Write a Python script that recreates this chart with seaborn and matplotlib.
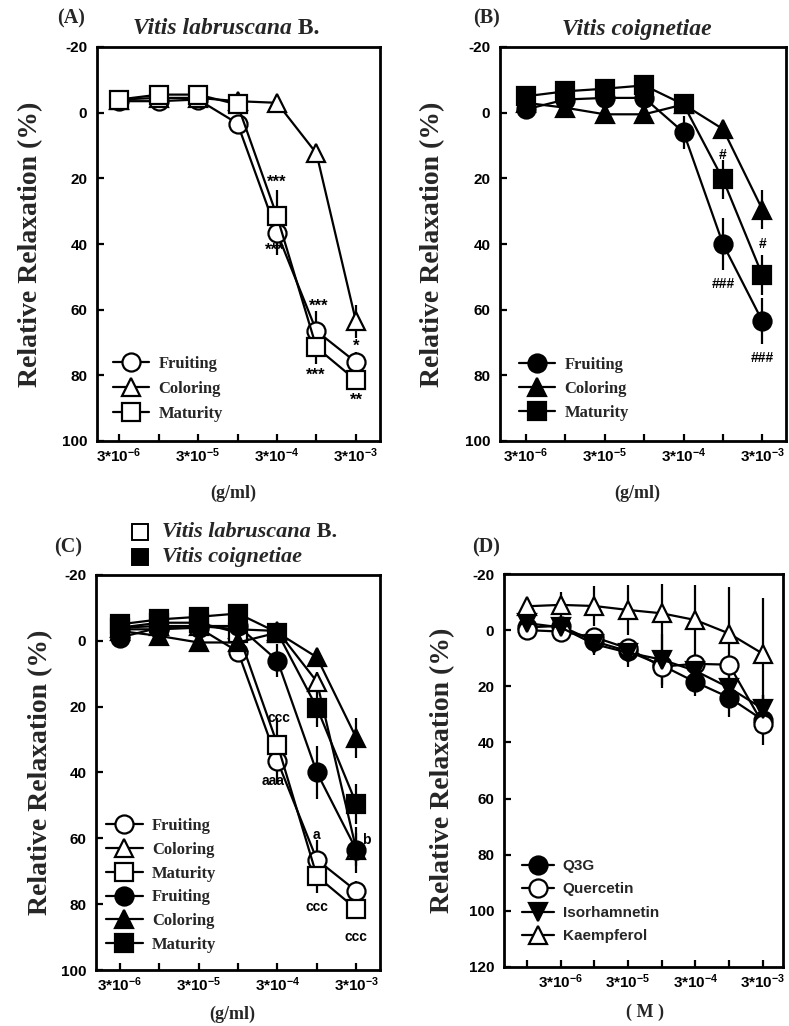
import numpy as np
import matplotlib
matplotlib.use("Agg")
import matplotlib.pyplot as plt
import seaborn as sns
from matplotlib.lines import Line2D
from matplotlib.text import Annotation

# ---------------- data ----------------
conc_labels_7 = ['3*10$^{-6}$', '', '3*10$^{-5}$', '', '3*10$^{-4}$', '', '3*10$^{-3}$']
conc_labels_8 = ['', '3*10$^{-6}$', '', '3*10$^{-5}$', '', '3*10$^{-4}$', '', '3*10$^{-3}$']
stages = ['Fruiting', 'Coloring', 'Maturity']

# Vitis labruscana B.
lab_fruit = [-3.5, -3.5, -4, 3.3, 36.5, 66.5, 76]
lab_fruit_err = [1, 1, 1, 2, 7, 6, 3]
lab_color = [-4, -4.5, -4.5, -3.5, -3, 12.4, 63.5]
lab_color_err = [1, 1, 1, 1, 1, 3, 5]
lab_mat = [-4, -5.5, -5.5, -2.5, 31.5, 71.5, 81.5]
lab_mat_err = [1, 1, 1, 1, 8, 5, 3]

# Vitis coignetiae
coi_fruit = [-1, -4, -4.5, -4.5, 6, 40, 63.5]
coi_fruit_err = [1, 1, 2, 2, 5, 8, 7]
coi_color = [-3, -1.5, 0.5, 0.5, -2.5, 5, 29.5]
coi_color_err = [1, 1, 2, 2, 1, 2, 6]
coi_mat = [-5, -6.5, -7.3, -8.3, -2.5, 20.3, 49.5]
coi_mat_err = [1, 1, 1, 1, 1, 6, 6]

# Panel D compounds
compounds = ['Q3G', 'Quercetin', 'Isorhamnetin', 'Kaempferol']
q3g = [-1, -1.5, 4, 7.5, 12.5, 18.5, 24, 32]
q3g_err = [1, 2, 3, 4, 8, 5, 7, 9]
quer = [0, 0.5, 2.5, 6.5, 13, 12, 12.3, 33.3]
quer_err = [1, 1, 2, 3, 3, 3, 3, 4]
iso = [-2.5, -1, 5, 8, 10.5, 14.5, 20.5, 28]
iso_err = [1, 2, 4, 5, 9, 4, 4, 5]
kaem = [-8.5, -9, -8.6, -7.2, -6, -3.6, 1.2, 8.4]
kaem_err = [2, 4.5, 7, 9, 10.5, 12.5, 16.5, 20]

# annotations: (x index, y value, text)
ann_A = [(4, 21.3, '***'), (3.93, 42.0, '***'), (5.05, 59.0, '***'), (4.97, 80.0, '***'),
         (6, 71.0, '*'), (6, 87.5, '**')]
ann_B = [(5, 13, '#'), (6, 40, '#'), (5, 52.3, '###'), (6, 74.6, '###')]
ann_C = [(4.05, 23.4, 'ccc'), (3.9, 42.5, 'aaa'), (5, 59, 'a'), (5, 81, 'ccc'),
         (6.25, 60.5, 'b'), (6, 90, 'ccc')]

# ---------------- style ----------------
sns.set_style("ticks")
plt.rcParams['font.family'] = ['Liberation Sans', 'DejaVu Sans']
plt.rcParams['mathtext.fontset'] = 'custom'
plt.rcParams['mathtext.bf'] = 'Liberation Sans:bold'
plt.rcParams['mathtext.rm'] = 'Liberation Sans:bold'
plt.rcParams['mathtext.it'] = 'Liberation Sans:bold'
plt.rcParams['mathtext.default'] = 'bf'

W, H = 789, 1026
fig = plt.figure(figsize=(W / 100, H / 100), dpi=100)
fig.patch.set_facecolor('white')

SERIF = 'Liberation Serif'
SANS = 'Liberation Sans'

def px_axes(l, r, t, b):
    return fig.add_axes([l / W, 1 - b / H, (r - l) / W, (b - t) / H])

axA = px_axes(97, 380, 47, 441)
axB = px_axes(500, 786, 47, 441)
axC = px_axes(96, 380, 575, 970)
axD = px_axes(504, 783, 574, 967)

MS = 13
MEW = 1.6
LW = 1.6

def series(ax, y, err, marker, filled, label):
    x = np.arange(len(y))
    ax.errorbar(x, y, yerr=err, fmt='none', ecolor='k', elinewidth=1.6, capsize=0, zorder=1)
    sns.lineplot(x=x, y=y, ax=ax, color='k', linewidth=LW, marker=marker,
                 markersize=MS, markerfacecolor='k' if filled else 'white',
                 markeredgecolor='k', markeredgewidth=MEW, errorbar=None, zorder=2)
    ln = ax.lines[-1]
    ln.set_label(label)
    return ln

def style_axes(ax, ylim, yticks, labels, xlim):
    ax.set_facecolor('white')
    ax.set_ylim(*ylim)
    ax.set_yticks(yticks)
    ax.set_yticklabels([str(v) for v in yticks], fontsize=11, fontweight='bold', family=SANS)
    ax.set_xlim(*xlim)
    ax.set_xticks(np.arange(len(labels)))
    ax.set_xticklabels(labels, fontsize=11, fontweight='bold', family=SANS)
    ax.tick_params(axis='both', direction='in', length=5, width=1.6, colors='k')
    ax.tick_params(axis='y', pad=7)
    ax.tick_params(axis='x', pad=4)
    for s in ax.spines.values():
        s.set_visible(True)
        s.set_linewidth(2)
        s.set_color('k')
    ax.grid(False)

def annotate(ax, items, size=10):
    for x, y, t in items:
        sz = size + 2 if '*' in t else size
        ax.text(x, y, t, ha='center', va='center', fontsize=sz, fontweight='bold',
                family=SANS, color='k', zorder=5)

def leg(ax, handles, anchor, family, size, hl=2.2, sp=0.55):
    lg = ax.legend(handles=handles, loc='lower left', bbox_to_anchor=anchor, frameon=False,
                   borderpad=0, borderaxespad=0, handlelength=hl, handletextpad=0.55,
                   labelspacing=sp, prop={'family': family, 'weight': 'bold', 'size': size})
    return lg

# ---------- Panel A ----------
hA = [series(axA, lab_fruit, lab_fruit_err, 'o', False, 'Fruiting'),
      series(axA, lab_color, lab_color_err, '^', False, 'Coloring'),
      series(axA, lab_mat, lab_mat_err, 's', False, 'Maturity')]
style_axes(axA, (100, -20), list(range(-20, 101, 20)), conc_labels_7, (-0.56, 6.61))
annotate(axA, ann_A)
leg(axA, hA, (0.055, 0.048), SERIF, 12)

# ---------- Panel B ----------
hB = [series(axB, coi_fruit, coi_fruit_err, 'o', True, 'Fruiting'),
      series(axB, coi_color, coi_color_err, '^', True, 'Coloring'),
      series(axB, coi_mat, coi_mat_err, 's', True, 'Maturity')]
style_axes(axB, (100, -20), list(range(-20, 101, 20)), conc_labels_7, (-0.66, 6.6))
annotate(axB, ann_B)
leg(axB, hB, (0.065, 0.05), SERIF, 12, sp=0.5)

# ---------- Panel C ----------
hC = [series(axC, lab_fruit, lab_fruit_err, 'o', False, 'Fruiting'),
      series(axC, lab_color, lab_color_err, '^', False, 'Coloring'),
      series(axC, lab_mat, lab_mat_err, 's', False, 'Maturity'),
      series(axC, coi_fruit, coi_fruit_err, 'o', True, 'Fruiting'),
      series(axC, coi_color, coi_color_err, '^', True, 'Coloring'),
      series(axC, coi_mat, coi_mat_err, 's', True, 'Maturity')]
style_axes(axC, (100, -20), list(range(-20, 101, 20)), conc_labels_7, (-0.6, 6.6))
annotate(axC, ann_C)
leg(axC, hC, (0.035, 0.043), SERIF, 12, sp=0.47)

# ---------- Panel D ----------
hD = [series(axD, q3g, q3g_err, 'o', True, compounds[0]),
      series(axD, quer, quer_err, 'o', False, compounds[1]),
      series(axD, iso, iso_err, 'v', True, compounds[2]),
      series(axD, kaem, kaem_err, '^', False, compounds[3])]
style_axes(axD, (120, -20), list(range(-20, 121, 20)), conc_labels_8, (-0.68, 7.6))
leg(axD, hD, (0.065, 0.06), SANS, 11, hl=2.1, sp=0.62)

# ---------- axis labels ----------
for ax, xl, ylx, xlx, xly in [(axA, '(g/ml)', -0.19, 0.48, -0.11),
                               (axB, '(g/ml)', -0.192, 0.479, -0.11),
                               (axC, '(g/ml)', -0.15, 0.48, -0.09),
                               (axD, '( M )', -0.176, 0.505, -0.094)]:
    ax.set_ylabel('Relative Relaxation (%)', fontsize=20, fontweight='bold', family=SERIF)
    ax.yaxis.set_label_coords(ylx, 0.5)
    ax.set_xlabel(xl, fontsize=13, fontweight='bold', family=SERIF)
    ax.xaxis.set_label_coords(xlx, xly)

# ---------- panel letters ----------
def ftext(xp, yp, s, **kw):
    return fig.text(xp / W, 1 - yp / H, s, **kw)

for xp, yp, s in [(71, 18, '(A)'), (486, 18, '(B)'), (68, 547, '(C)'), (486, 547, '(D)')]:
    ftext(xp, yp, s, ha='center', va='center', fontsize=14.5, fontweight='bold', family=SERIF)

# ---------- species titles ----------
def species(xp, yp, italic, bold, size):
    t = ftext(xp, yp, italic, ha='left', va='center', fontsize=size, style='italic',
              fontweight='bold', family=SERIF)
    if bold:
        fig.add_artist(Annotation(' ' + bold, xy=(1, 0), xycoords=t, ha='left', va='bottom',
                                  fontsize=size, fontweight='bold', family=SERIF))
    return t

species(133, 29, 'Vitis labruscana', 'B.', 17)
species(562, 29, 'Vitis coignetiae', None, 17)

# Panel C species key
species(162, 532, 'Vitis labruscana', 'B.', 16)
species(162, 557, 'Vitis coignetiae', None, 16)
fig.add_artist(Line2D([140 / W], [1 - 532 / H], marker='s', markersize=12, markerfacecolor='white',
                      markeredgecolor='k', markeredgewidth=1.4, linestyle='none',
                      transform=fig.transFigure))
fig.add_artist(Line2D([140 / W], [1 - 557 / H], marker='s', markersize=12, markerfacecolor='k',
                      markeredgecolor='k', markeredgewidth=1.4, linestyle='none',
                      transform=fig.transFigure))

fig.savefig('out.png', dpi=100, facecolor='white')
